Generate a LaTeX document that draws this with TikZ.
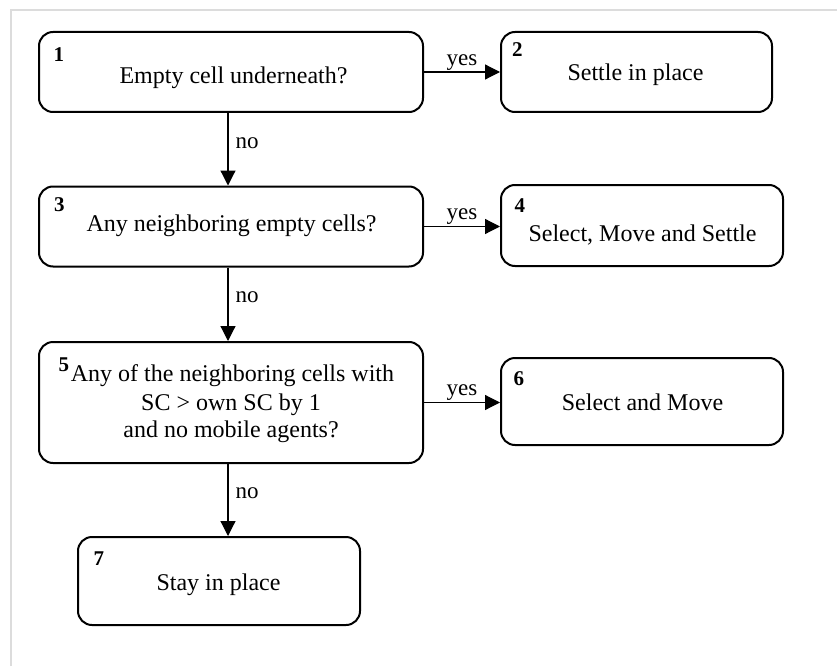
\documentclass[tikz,border=0pt]{standalone}
\usepackage{fontspec}
\setmainfont{Liberation Serif}
\usetikzlibrary{arrows.meta}
\definecolor{framegray}{RGB}{220,220,220}
\begin{document}
\begin{tikzpicture}[x=1pt,y=-1pt,
  box/.style={draw=black, line width=2pt, rounded corners=14pt, inner sep=0pt},
  txt/.style={anchor=base, inner sep=0pt, font=\fontsize{24}{28}\selectfont},
  num/.style={anchor=base west, inner sep=0pt, font=\fontsize{21}{24}\selectfont\bfseries},
  lbl/.style={inner sep=1pt, font=\fontsize{23}{26}\selectfont},
  arr/.style={line width=1.2pt, -{Triangle[length=15pt,width=15pt]}},
]
\useasboundingbox (0,0) rectangle (837,666);
% frame (top and left edges visible)
\draw[framegray, line width=2pt] (11,666) -- (11,10) -- (837,10);

% boxes
\node[box, minimum width=384pt, minimum height=80pt] (b1) at (231,72) {};
\node[box, minimum width=271pt, minimum height=80pt] (b2) at (636.5,72) {};
\node[box, minimum width=384pt, minimum height=80pt] (b3) at (231,226.5) {};
\node[box, minimum width=282pt, minimum height=81pt] (b4) at (642,225.5) {};
\node[box, minimum width=384pt, minimum height=121pt] (b5) at (231,402.5) {};
\node[box, minimum width=282pt, minimum height=87pt] (b6) at (642,401.5) {};
\node[box, minimum width=282pt, minimum height=88pt] (b7) at (219,581) {};

% numbers
\node[num] (n1) at (53.5,61.7) {1};
\node[num] (n2) at (512,57) {2};
\node[num] (n3) at (54,211.7) {3};
\node[num] (n4) at (514.5,212.7) {4};
\node[num] (n5) at (58.5,371) {5};
\node[num] (n6) at (513.5,385) {6};
\node[num] (n7) at (93.5,565.7) {7};

% texts
\node[txt] (t1) at (233.5,83.3) {Empty cell underneath?};
\node[txt] (t2) at (635.5,81) {Settle in place};
\node[txt] (t3) at (231.5,231.7) {Any neighboring empty cells?};
\node[txt] (t4) at (642.5,241.7) {Select, Move and Settle};
\node[txt] (t5a) at (232.5,381.7) {Any of the neighboring cells with};
\node[txt] (t5b) at (231,410) {SC > own SC by 1};
\node[txt] (t5c) at (231,437.3) {and no mobile agents?};
\node[txt] (t6) at (642.5,410.7) {Select and Move};
\node[txt] (t7) at (218.5,590.7) {Stay in place};

% connectors
\draw[arr] (b1.east) -- (b1.east -| b2.west) node[lbl, midway, above] (y1) {yes};
\draw[arr] (b3.east) -- (b3.east -| b4.west) node[lbl, midway, above] (y2) {yes};
\draw[arr] (b5.east) -- (b5.east -| b6.west) node[lbl, midway, above] (y3) {yes};

\draw[arr] ([xshift=-3pt]b1.south) -- ([xshift=-3pt]b1.south |- b3.north) node[lbl, pos=0.41, right=6pt] (o1) {no};
\draw[arr] ([xshift=-3pt]b3.south) -- ([xshift=-3pt]b3.south |- b5.north) node[lbl, pos=0.41, right=6pt] (o2) {no};
\draw[arr] ([xshift=-3pt]b5.south) -- ([xshift=-3pt]b5.south |- b7.north) node[lbl, pos=0.40, right=6pt] (o3) {no};
\end{tikzpicture}
\end{document}
